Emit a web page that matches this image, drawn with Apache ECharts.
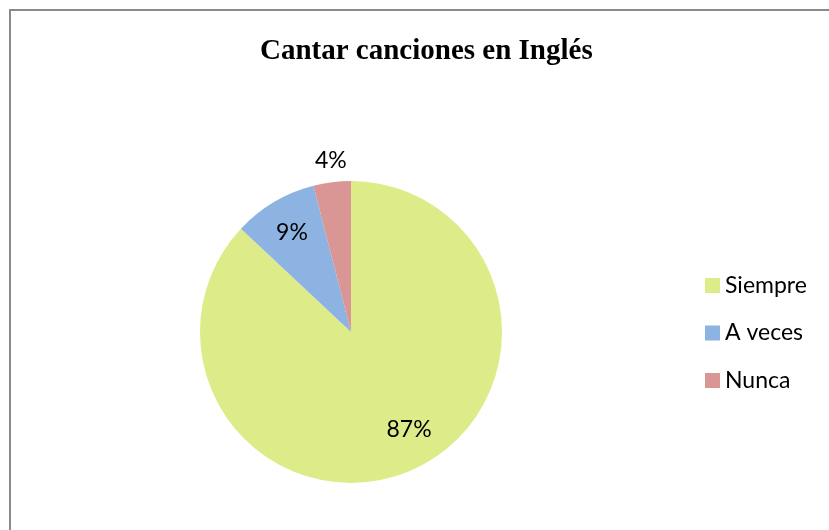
<!DOCTYPE html>
<html><head><meta charset="utf-8">
<script src="https://cdn.jsdelivr.net/npm/echarts@6/dist/echarts.min.js"></script>
<style>html,body{margin:0;padding:0;background:#fff}#c{width:829px;height:530px}</style>
</head><body><div id="c"></div>
<script>
const titleText = 'Cantar canciones en Inglés';
const categories = ['Siempre', 'A veces', 'Nunca'];
const values = [87, 9, 4];
const colors = ['#DDEC89', '#8DB3E2', '#D99694'];

const chart = echarts.init(document.getElementById('c'), null, {renderer: 'canvas'});
const data = categories.map((n, i) => ({name: n, value: values[i], itemStyle: {color: colors[i]}}));
const fmt = p => Math.round(p.percent) + '%';
const labelFont = {fontFamily: 'Lato', fontSize: 23, color: '#000'};

chart.setOption({
  animation: false,
  title: {
    text: titleText, left: 260, top: 37, padding: 0,
    textStyle: {fontFamily: 'Liberation Serif', fontWeight: 'bold', fontSize: 29, color: '#000'}
  },
  legend: {
    orient: 'vertical', left: 705, top: 274, padding: 0, itemWidth: 15, itemHeight: 15, itemGap: 24.5,
    icon: 'rect', data: categories,
    textStyle: {fontFamily: 'Lato', fontSize: 23, color: '#000'}
  },
  graphic: [{
    type: 'rect', shape: {x: 10, y: 10, width: 840, height: 540}, silent: true,
    style: {fill: 'none', stroke: '#8a8a8a', lineWidth: 2}
  }],
  series: [
    {
      type: 'pie', center: [351, 332], radius: [0, 151], startAngle: 90, clockwise: true,
      data: data, label: {show: false}, labelLine: {show: false}
    },
    {
      type: 'pie', center: [351, 332], radius: [75, 151], startAngle: 90, clockwise: true, silent: true,
      data: data.map((d, i) => ({name: d.name, value: d.value, itemStyle: {color: 'rgba(0,0,0,0)'},
        label: {show: i < 2}})),
      label: Object.assign({position: 'inside', formatter: fmt}, labelFont),
      labelLayout: p => p.dataIndex === 0 ? {dx: 12, dy: -9} : {},
      labelLine: {show: false}
    },
    {
      type: 'pie', center: [351, 332], radius: [151, 197], startAngle: 90, clockwise: true, silent: true,
      data: data.map((d, i) => ({name: d.name, value: d.value, itemStyle: {color: 'rgba(0,0,0,0)'},
        label: {show: i === 2}})),
      label: Object.assign({position: 'inside', formatter: fmt}, labelFont),
      labelLayout: {dx: 2, dy: 4},
      labelLine: {show: false}
    }
  ]
});
</script>
</body></html>
